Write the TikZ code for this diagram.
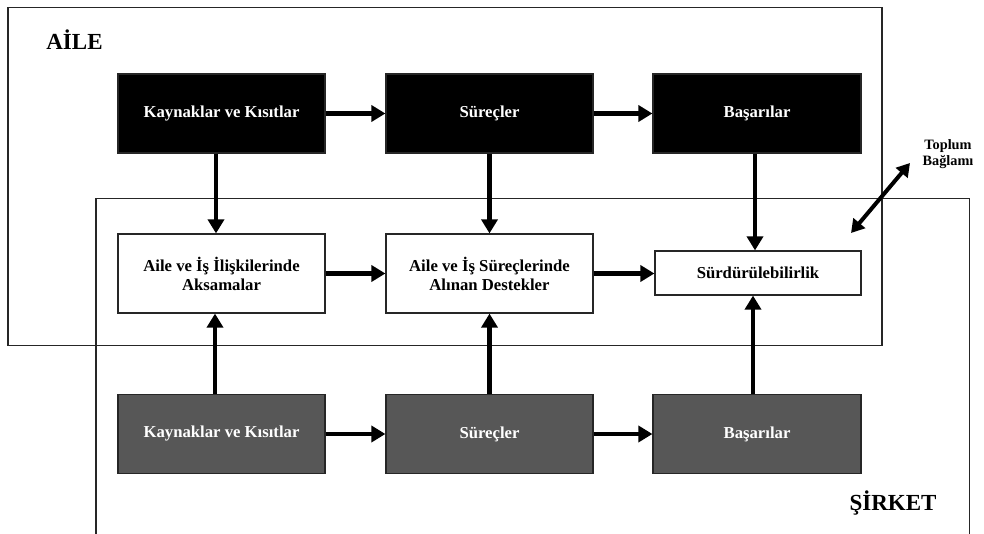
\documentclass[tikz,border=0pt]{standalone}
\usepackage{fontspec}
\setmainfont{Liberation Serif}
\usetikzlibrary{arrows.meta}
\begin{document}
\begin{tikzpicture}[x=1pt,y=-1pt,
  frame/.style={draw=black!85,line width=1.2pt},
  box/.style={draw=black!85,line width=1.2pt,minimum width=207pt,minimum height=79pt,
    inner sep=0pt,align=center,font=\fontsize{16.7}{19}\selectfont\bfseries},
  darkbox/.style={box,fill=black,text=white},
  greybox/.style={box,fill=black!66,text=white},
  whitebox/.style={box,fill=white,text=black},
  flow/.style={line width=4.8pt,-{Triangle[length=14pt,width=16pt]}},
  biflow/.style={line width=4pt,{Triangle[length=13pt,width=15pt]}-{Triangle[length=13pt,width=15pt]}},
  title/.style={font=\fontsize{23}{26}\selectfont\bfseries}
]
\useasboundingbox (0,0) rectangle (984,534);
\fill[white] (0,0) rectangle (984,534);

% family frame and company frame (open at the bottom)
\draw[frame] (8,7.5) rectangle (882,345.5);
\draw[frame] (96,534) -- (96,198.5) -- (969.5,198.5) -- (969.5,534);

\node[title] (aile) at (74.5,40) {AİLE};
\node[title] (sirket) at (893,503) {ŞİRKET};

% family row
\node[darkbox] (k1) at (221.5,113.5) {Kaynaklar ve Kısıtlar};
\node[darkbox] (s1) at (489.5,113.5) {Süreçler};
\node[darkbox,minimum width=208pt] (b1) at (757,113.5) {Başarılar};

% middle row
\node[whitebox] (a1) at (221.5,273.5) {Aile ve İş İlişkilerinde\\Aksamalar};
\node[whitebox] (a2) at (489.5,273.5) {Aile ve İş Süreçlerinde\\Alınan Destekler};
\node[whitebox,minimum width=206pt,minimum height=44pt] (sd) at (758,273) {Sürdürülebilirlik};

% company row
\node[greybox] (k2) at (221.5,434) {Kaynaklar ve Kısıtlar};
\node[greybox] (s2) at (489.5,434) {Süreçler};
\node[greybox,minimum width=208pt] (b2) at (757,434) {Başarılar};

% society context
\node[font=\fontsize{14.3}{15.5}\selectfont\bfseries,align=center] (tb) at (948,154) {Toplum\\Bağlamı};
\coordinate (ctxa) at (851,233);
\coordinate (ctxb) at (910,163);
\draw[biflow] (ctxa) -- (ctxb);

% horizontal flows
\draw[flow] (k1) -- (s1);
\draw[flow] (s1) -- (b1);
\draw[flow] (a1) -- (a2);
\draw[flow] (a2.east) -- (sd.west |- a2.east);
\draw[flow] (k2) -- (s2);
\draw[flow] (s2) -- (b2);

% vertical flows
\draw[flow] ([xshift=-5.5pt]k1.south) -- ([xshift=-5.5pt]a1.north);
\draw[flow] (s1.south) -- (a2.north);
\draw[flow] ([xshift=-2pt]b1.south) -- ([xshift=-3pt]sd.north);
\draw[flow] ([xshift=-6.5pt]k2.north) -- ([xshift=-6.5pt]a1.south);
\draw[flow] (s2.north) -- (a2.south);
\draw[flow] ([xshift=-4pt]b2.north) -- ([xshift=-5pt]sd.south);
\end{tikzpicture}
\end{document}
